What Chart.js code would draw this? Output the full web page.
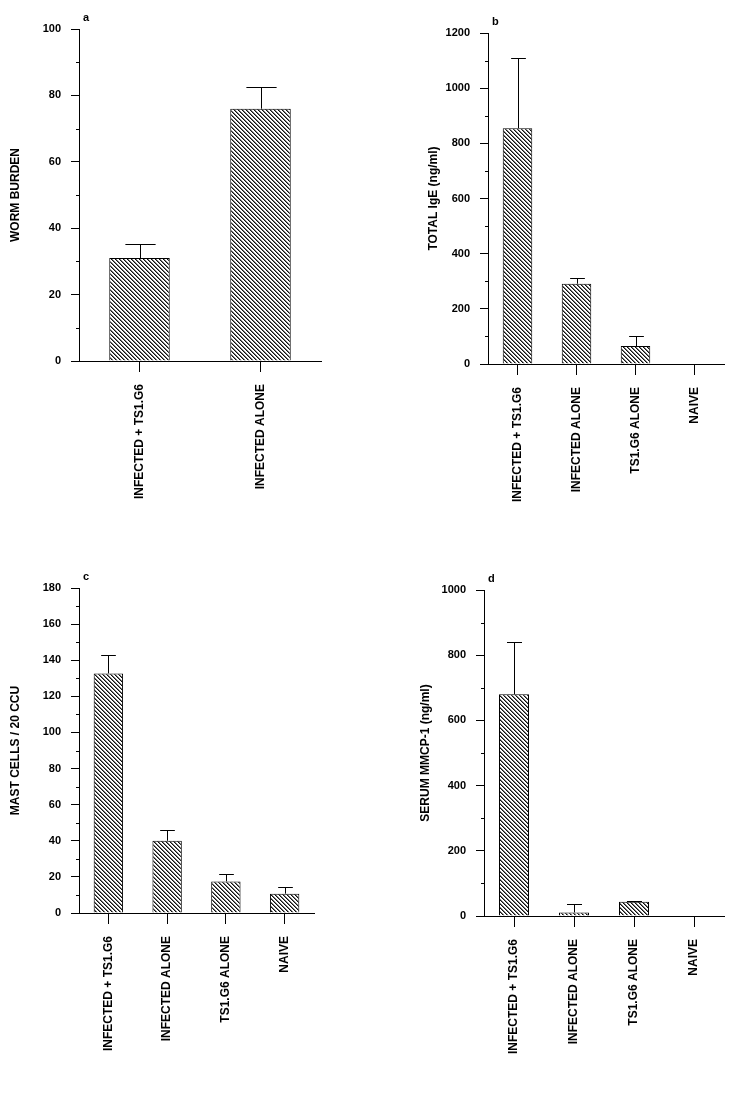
<!DOCTYPE html>
<html>
<head>
<meta charset="utf-8">
<script src="https://cdn.jsdelivr.net/npm/chart.js@4"></script>
<style>
body { margin: 0; background: #fff; width: 736px; height: 1109px; position: relative; overflow: hidden; }
canvas { position: absolute; }
</style>
</head>
<body>
<canvas id="chartA" width="368" height="540" style="left:0;top:0"></canvas>
<canvas id="chartB" width="368" height="540" style="left:368px;top:0"></canvas>
<canvas id="chartC" width="368" height="569" style="left:0;top:540px"></canvas>
<canvas id="chartD" width="368" height="569" style="left:368px;top:540px"></canvas>
<script>
// groups
const groupsA = ['INFECTED + TS1.G6', 'INFECTED ALONE'];
const groups = ['INFECTED + TS1.G6', 'INFECTED ALONE', 'TS1.G6 ALONE', 'NAIVE'];

// a - worm burden (mean, mean + error)
const wormBurden = [31, 76];
const wormBurdenTop = [35.2, 82.5];
// b - total IgE ng/ml
const totalIgE = [855, 291, 65, 0];
const totalIgETop = [1108, 313, 101, 0];
// c - mast cells / 20 CCU
const mastCells = [132.7, 40, 17.5, 10.7];
const mastCellsTop = [142.9, 46, 21.4, 14.2];
// d - serum MMCP-1 ng/ml
const mmcp1 = [680, 11, 44, 0];
const mmcp1Top = [839, 36, 47, 0];

const FONT = "'Liberation Sans', Arial, sans-serif";

// diagonal hatch used for every bar
function hatch() {
  const c = document.createElement('canvas');
  c.width = 4; c.height = 4;
  const g = c.getContext('2d');
  g.fillStyle = '#fff';
  g.fillRect(0, 0, 4, 4);
  for (let i = 0; i < 4; i++) {
    g.fillStyle = '#111';
    g.fillRect(i, i, 1, 1);
    g.fillStyle = '#777';
    g.fillRect((i + 1) % 4, i, 1, 1);
  }
  return g.createPattern(c, 'repeat');
}

const errorBars = {
  id: 'errorBars',
  afterDatasetsDraw(chart, args, opts) {
    const ctx = chart.ctx;
    const y = chart.scales.y;
    const bars = chart.getDatasetMeta(0).data;
    ctx.save();
    ctx.strokeStyle = '#000';
    ctx.lineWidth = 1;
    bars.forEach((bar, i) => {
      const top = opts.tops[i];
      if (!top || top <= chart.data.datasets[0].data[i]) return;
      const yt = Math.round(y.getPixelForValue(top)) + 0.5;
      const x = Math.round(bar.x) + 0.5;
      const half = bar.width / 4;
      ctx.beginPath();
      ctx.moveTo(x, bar.y);
      ctx.lineTo(x, yt);
      ctx.moveTo(x - half, yt);
      ctx.lineTo(x + half, yt);
      ctx.stroke();
    });
    ctx.restore();
  }
};

const extras = {
  id: 'extras',
  afterDraw(chart, args, opts) {
    const ctx = chart.ctx;
    const y = chart.scales.y;
    const a = chart.chartArea;
    ctx.save();
    ctx.strokeStyle = '#000';
    ctx.lineWidth = 1;
    ctx.beginPath();
    for (let v = opts.minor; v < opts.max; v += opts.minor) {
      if (v % opts.step === 0) continue;
      const py = Math.round(y.getPixelForValue(v)) + 0.5;
      ctx.moveTo(a.left - 3, py);
      ctx.lineTo(a.left, py);
    }
    ctx.stroke();
    ctx.fillStyle = '#000';
    ctx.font = 'bold 11px ' + FONT;
    ctx.textBaseline = 'middle';
    ctx.fillText(opts.letter, a.left + 4, a.top - 11);
    ctx.restore();
  }
};

function makeChart(id, labels, values, tops, o) {
  return new Chart(document.getElementById(id), {
    type: 'bar',
    data: {
      labels: labels,
      datasets: [{
        data: values,
        backgroundColor: hatch(),
        borderColor: '#000',
        borderWidth: 1,
        barPercentage: 0.5,
        categoryPercentage: 1
      }]
    },
    options: {
      responsive: false,
      animation: false,
      layout: { padding: { left: o.padLeft, top: o.padTop, right: o.padRight, bottom: 0 } },
      plugins: {
        legend: { display: false },
        tooltip: { enabled: false },
        errorBars: { tops: tops },
        extras: { minor: o.minor, step: o.step, max: o.max, letter: o.letter }
      },
      scales: {
        x: {
          afterFit: s => { s.height = o.xHeight; },
          grid: { drawOnChartArea: false, drawTicks: true, tickLength: 11, offset: false, color: '#000' },
          border: { color: '#000', width: 1 },
          ticks: {
            color: '#000', font: { family: FONT, size: 12, weight: 'bold' },
            minRotation: 90, maxRotation: 90, autoSkip: false, padding: 12
          }
        },
        y: {
          min: 0, max: o.max,
          afterFit: s => { s.width = o.yWidth; },
          grid: { drawOnChartArea: false, drawTicks: true, tickLength: 8, color: '#000' },
          border: { color: '#000', width: 1 },
          ticks: {
            stepSize: o.step, color: '#000', padding: 10,
            font: { family: FONT, size: 11, weight: 'bold' },
            callback: v => String(v)
          },
          title: { display: true, text: o.title, color: '#000', padding: { top: 8, bottom: 0 },
                   font: { family: FONT, size: 12, weight: 'bold' } }
        }
      }
    },
    plugins: [errorBars, extras]
  });
}

makeChart('chartA', groupsA, wormBurden, wormBurdenTop,
  { max: 100, step: 20, minor: 10, title: 'WORM BURDEN', letter: 'a',
    padLeft: 0, yWidth: 79, padTop: 29, padRight: 47, xHeight: 179 });
makeChart('chartB', groups, totalIgE, totalIgETop,
  { max: 1200, step: 200, minor: 100, title: 'TOTAL IgE (ng/ml)', letter: 'b',
    padLeft: 50, yWidth: 70, padTop: 33, padRight: 12, xHeight: 176 });
makeChart('chartC', groups, mastCells, mastCellsTop,
  { max: 180, step: 20, minor: 10, title: 'MAST CELLS / 20 CCU', letter: 'c',
    padLeft: 0, yWidth: 79, padTop: 48, padRight: 54, xHeight: 196 });
makeChart('chartD', groups, mmcp1, mmcp1Top,
  { max: 1000, step: 200, minor: 100, title: 'SERUM MMCP-1 (ng/ml)', letter: 'd',
    padLeft: 42, yWidth: 74, padTop: 50, padRight: 12, xHeight: 193 });
</script>
</body>
</html>
